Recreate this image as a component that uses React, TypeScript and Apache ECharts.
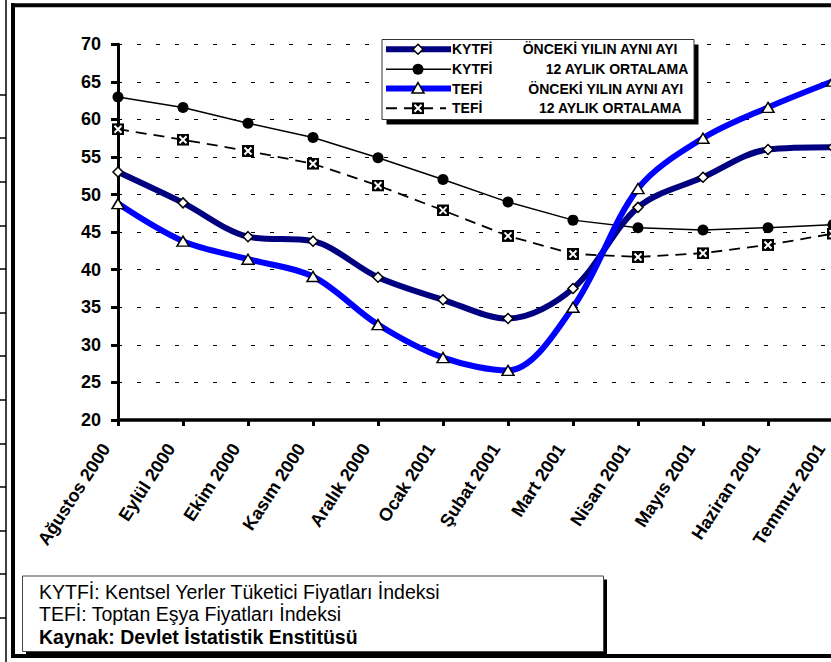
import React, { useEffect, useRef } from "react";
import * as echarts from "echarts";

const categories = [
  "Ağustos 2000", "Eylül 2000", "Ekim 2000", "Kasım 2000", "Aralık 2000", "Ocak 2001",
  "Şubat 2001", "Mart 2001", "Nisan 2001", "Mayıs 2001", "Haziran 2001", "Temmuz 2001",
];
const kytfiYillik = [53.0, 48.9, 44.4, 43.8, 39.0, 36.0, 33.5, 37.5, 48.3, 52.3, 56.0, 56.3];
const kytfi12 = [63.0, 61.6, 59.5, 57.6, 54.9, 52.0, 49.0, 46.6, 45.6, 45.3, 45.6, 46.0];
const tefiYillik = [48.8, 43.8, 41.4, 39.1, 32.7, 28.3, 26.6, 35.0, 50.8, 57.5, 61.6, 65.1];
const tefi12 = [58.7, 57.3, 55.8, 54.1, 51.2, 47.9, 44.5, 42.1, 41.7, 42.2, 43.3, 44.8];
const yMin = 20;
const yMax = 70;
const yStep = 5;

const legendNames = ["KYTFİ", "KYTFİ", "TEFİ", "TEFİ"];
const legendDescs = ["ÖNCEKİ YILIN AYNI AYI", "12 AYLIK ORTALAMA", "ÖNCEKİ YILIN AYNI AYI", "12 AYLIK ORTALAMA"];
const notes = [
  "KYTFİ: Kentsel Yerler Tüketici Fiyatları İndeksi",
  "TEFİ: Toptan Eşya Fiyatları İndeksi",
  "Kaynak: Devlet İstatistik Enstitüsü",
];

const FONT = '"Liberation Sans", Arial, sans-serif';

const crossSvg =
  '<svg xmlns="http://www.w3.org/2000/svg" width="24" height="24" viewBox="0 0 24 24">' +
  '<rect width="24" height="24" fill="#000"/>' +
  '<path d="M5 5L19 19M19 5L5 19" stroke="#fff" stroke-width="4"/></svg>';
const crossImg = "data:image/svg+xml;charset=utf-8," + encodeURIComponent(crossSvg);

export default function App() {
  const ref = useRef<HTMLDivElement>(null);

  useEffect(() => {
    if (!ref.current) return;
    const chart = echarts.init(ref.current, null, { renderer: "svg" });

    const stripYs = [95, 138, 182, 226, 269, 313, 356, 400, 444, 487, 531, 574, 618];
    const rowYs = [49.3, 69.3, 88.6, 108.3];
    const descX = [522.7, 545.7, 528.3, 539];
    const mx = 418;
    const blk = { stroke: "#000", lineWidth: 4 };

    const graphic: any[] = [];
    graphic.push({ type: "line", silent: true, z: 100, shape: { x1: 6, y1: 0, x2: 6, y2: 662 }, style: { stroke: "#000", lineWidth: 1.5 } });
    stripYs.forEach((y) =>
      graphic.push({ type: "line", silent: true, z: 100, shape: { x1: 0, y1: y, x2: 6, y2: y }, style: { stroke: "#000", lineWidth: 1.5 } })
    );
    // outer frame
    graphic.push({ type: "line", silent: true, z: 100, shape: { x1: 11, y1: 5.3, x2: 860, y2: 5.3 }, style: blk });
    graphic.push({ type: "line", silent: true, z: 100, shape: { x1: 13, y1: 3.3, x2: 13, y2: 658 }, style: blk });
    graphic.push({ type: "line", silent: true, z: 100, shape: { x1: 11, y1: 656, x2: 860, y2: 656 }, style: blk });

    // legend box
    graphic.push({ type: "rect", silent: true, z: 100, shape: { x: 386.5, y: 44.5, width: 312, height: 80 }, style: { fill: "#000" } });
    graphic.push({ type: "rect", silent: true, z: 101, shape: { x: 382, y: 39.5, width: 312, height: 80 }, style: { fill: "#fff", stroke: "#333", lineWidth: 1 } });
    graphic.push({ type: "line", z: 102, shape: { x1: 386, y1: rowYs[0], x2: 451, y2: rowYs[0] }, style: { stroke: "#000080", lineWidth: 6 } });
    graphic.push({ type: "polygon", z: 103, shape: { points: [[mx, rowYs[0] - 5], [mx + 5, rowYs[0]], [mx, rowYs[0] + 5], [mx - 5, rowYs[0]]] }, style: { fill: "#fff", stroke: "#000", lineWidth: 1.5 } });
    graphic.push({ type: "line", z: 102, shape: { x1: 386, y1: rowYs[1], x2: 451, y2: rowYs[1] }, style: { stroke: "#000", lineWidth: 1.5 } });
    graphic.push({ type: "circle", z: 103, shape: { cx: mx, cy: rowYs[1], r: 5.5 }, style: { fill: "#000" } });
    graphic.push({ type: "line", z: 102, shape: { x1: 386, y1: rowYs[2], x2: 451, y2: rowYs[2] }, style: { stroke: "#0000ff", lineWidth: 6 } });
    graphic.push({ type: "polygon", z: 103, shape: { points: [[mx, rowYs[2] - 6], [mx + 6, rowYs[2] + 4.5], [mx - 6, rowYs[2] + 4.5]] }, style: { fill: "#fff", stroke: "#000", lineWidth: 1.5 } });
    graphic.push({ type: "line", z: 102, shape: { x1: 386, y1: rowYs[3], x2: 446, y2: rowYs[3] }, style: { stroke: "#000", lineWidth: 2, lineDash: [11, 7] } });
    graphic.push({ type: "image", z: 103, style: { image: crossImg, x: mx - 6, y: rowYs[3] - 6, width: 12, height: 12 } });

    legendNames.forEach((n, i) =>
      graphic.push({ type: "text", z: 104, style: { text: n, x: 452, y: rowYs[i], fill: "#000", fontSize: 14, fontWeight: "bold", fontFamily: FONT, align: "left", verticalAlign: "middle" } })
    );
    legendDescs.forEach((d, i) =>
      graphic.push({ type: "text", z: 104, style: { text: d, x: descX[i], y: rowYs[i], fill: "#000", fontSize: 14, fontWeight: "bold", fontFamily: FONT, align: "left", verticalAlign: "middle" } })
    );

    // footnote box
    graphic.push({ type: "rect", silent: true, z: 100, shape: { x: 26, y: 579.5, width: 581, height: 75.5 }, style: { fill: "#000" } });
    graphic.push({ type: "rect", silent: true, z: 101, shape: { x: 22.5, y: 576, width: 581, height: 75.5 }, style: { fill: "#fff", stroke: "#444", lineWidth: 1 } });
    const noteYs = [591.7, 614.2, 636.8];
    notes.forEach((t, i) =>
      graphic.push({ type: "text", z: 104, style: { text: t, x: 39, y: noteYs[i], fill: "#000", fontSize: 19.5, fontWeight: i === 2 ? "bold" : "normal", fontFamily: FONT, align: "left", verticalAlign: "middle" } })
    );

    chart.setOption({
      animation: false,
      backgroundColor: "#fff",
      textStyle: { fontFamily: FONT },
      grid: { left: 118, top: 44.3, width: 715, height: 375.7, containLabel: false },
      xAxis: {
        type: "category",
        data: categories,
        boundaryGap: false,
        axisLine: { lineStyle: { color: "#000", width: 3.5 } },
        axisTick: { show: true, interval: 0, length: 6, lineStyle: { color: "#000", width: 3 } },
        axisLabel: {
          interval: 0,
          rotate: 57,
          fontSize: 18,
          fontWeight: "bold",
          color: "#000",
          margin: 7,
          fontFamily: FONT,
          formatter: (v: string) => `${v}{p| }`,
          rich: { p: { width: 22, fontSize: 18 } },
        },
        splitLine: { show: false },
      },
      yAxis: {
        type: "value",
        min: yMin,
        max: yMax,
        interval: yStep,
        axisLine: { show: true, lineStyle: { color: "#000", width: 3 } },
        axisTick: { show: true, length: 7, lineStyle: { color: "#000", width: 3 } },
        axisLabel: { fontSize: 18, fontWeight: "bold", color: "#000", margin: 17, fontFamily: FONT },
        splitLine: { show: true, lineStyle: { color: "#000", width: 1, type: [4, 15], dashOffset: 0 } },
      },
      series: [
        {
          name: "TEFİ 12 AYLIK ORTALAMA",
          type: "line",
          data: tefi12,
          smooth: false,
          z: 2,
          symbol: "image://" + crossImg,
          symbolSize: 12,
          showAllSymbol: true,
          lineStyle: { color: "#000", width: 1.8, type: [11, 7] },
          itemStyle: { color: "#000" },
        },
        {
          name: "KYTFİ 12 AYLIK ORTALAMA",
          type: "line",
          data: kytfi12,
          smooth: false,
          z: 2,
          symbol: "circle",
          symbolSize: 11,
          showAllSymbol: true,
          lineStyle: { color: "#000", width: 1.5 },
          itemStyle: { color: "#000" },
        },
        {
          name: "KYTFİ ÖNCEKİ YILIN AYNI AYI",
          type: "line",
          data: kytfiYillik,
          smooth: 0.33,
          z: 3,
          symbol: "diamond",
          symbolSize: [10, 10],
          showAllSymbol: true,
          lineStyle: { color: "#000080", width: 6 },
          itemStyle: { color: "#fff", borderColor: "#000", borderWidth: 1.5 },
        },
        {
          name: "TEFİ ÖNCEKİ YILIN AYNI AYI",
          type: "line",
          data: tefiYillik,
          smooth: 0.33,
          z: 4,
          symbol: "triangle",
          symbolSize: [12, 10],
          showAllSymbol: true,
          lineStyle: { color: "#0000ff", width: 6 },
          itemStyle: { color: "#fff", borderColor: "#000", borderWidth: 1.5 },
        },
      ],
      graphic,
    });

    return () => chart.dispose();
  }, []);

  return (
    <div style={{ position: "absolute", left: 0, top: 0, width: 831, height: 662, overflow: "hidden" }}>
      <div ref={ref} style={{ position: "absolute", left: 0, top: 0, width: 860, height: 662 }} />
    </div>
  );
}
